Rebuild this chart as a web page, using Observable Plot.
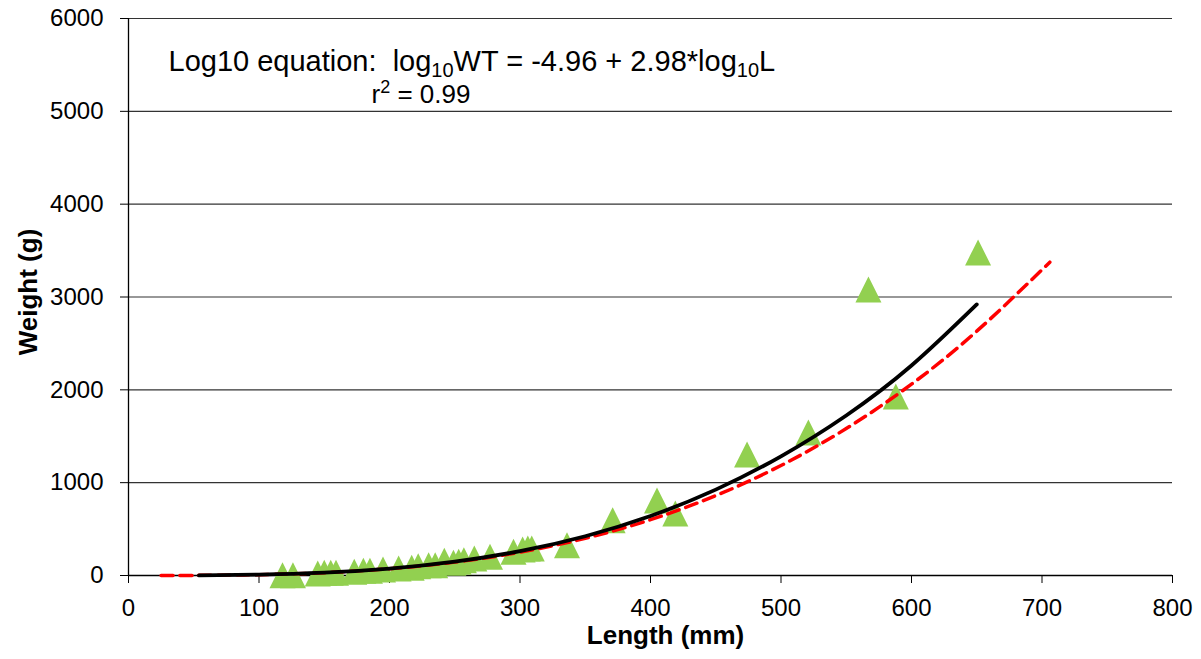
<!DOCTYPE html>
<html><head><meta charset="utf-8">
<script src="https://cdn.jsdelivr.net/npm/d3@7"></script>
<script src="https://cdn.jsdelivr.net/npm/@observablehq/plot@0.6"></script>
<style>
html,body{margin:0;padding:0;background:#fff;}
#chart svg{display:block;}
</style>
</head><body><div id="chart"></div>
<script>
// Observed fish (length mm, weight g)
const lengths = [118,126,145,150,155,159,173,180,185,195,207,217,222,230,235,242,249,253,257,265,277,295,302,306,309,336,371,405,419,474,521,567,588,651];
const weights = [3,3,22,29,29,29,40,51,51,65,76,83,100,111,111,158,137,147,165,183,201,255,280,291,291,326,596,808,668,1304,1541,3082,1929,3480];

// Black solid fitted curve
const fitL = [54,100,150,200,250,300,350,400,450,500,550,600,650];
const fitW = [1,9,30,74,149,262,423,641,925,1284,1724,2262,2920];

// Red dashed log10 curve
const logL = [25,50,100,150,200,250,300,350,400,450,500,550,600,650,706];
const logW = [0,1,9,30,73,144,251,401,601,860,1185,1583,2061,2632,3375];

const xTicks = [0,100,200,300,400,500,600,700,800];
const yTicks = [0,1000,2000,3000,4000,5000,6000];
const xTitle = "Length (mm)";
const yTitle = "Weight (g)";
// [text, kind] kind: 0 normal, 1 subscript, 2 superscript
const eqLine1 = [["Log10 equation:  log",0],["10",1],["WT = -4.96 + 2.98*log",0],["10",1],["L",0]];
const eqLine2 = [["r",0],["2",2],[" = 0.99",0]];

const points = lengths.map((L, i) => ({L, W: weights[i]}));
const fitLine = fitL.map((L, i) => ({L, W: fitW[i]}));
const logLine = logL.map((L, i) => ({L, W: logW[i]}));
const plain = parts => parts.map(p => p[0]).join("");

const triangle = {
  draw(ctx, size) {
    const r = Math.sqrt(size / Math.PI);
    ctx.moveTo(0, -r); ctx.lineTo(r, r); ctx.lineTo(-r, r); ctx.closePath();
  }
};
const FONT = "'Liberation Sans', Arial, sans-serif";

const svg = Plot.plot({
  width: 1201, height: 659,
  marginLeft: 128, marginRight: 29, marginTop: 18, marginBottom: 84,
  style: {fontFamily: FONT, fontSize: "24px", color: "#000", background: "#fff", overflow: "visible"},
  x: {domain: [0, 800], ticks: xTicks, tickSize: 8, tickPadding: 15, tickFormat: d => String(d), label: null},
  y: {domain: [0, 6000], ticks: yTicks, tickSize: 8, tickPadding: 17, tickFormat: d => String(d), label: null},
  marks: [
    Plot.ruleY(yTicks, {stroke: "#333", strokeWidth: 1.2}),
    Plot.ruleY([0], {stroke: "#000", strokeWidth: 1.3}),
    Plot.ruleX([0], {stroke: "#000", strokeWidth: 1.3}),
    Plot.dot(points, {x: "L", y: "W", symbol: triangle, r: 13, fill: "#92D050", stroke: "none"}),
    Plot.line(logLine, {x: "L", y: "W", stroke: "#FF0000", strokeWidth: 3.5, strokeDasharray: "12,7", curve: "natural"}),
    Plot.line(fitLine, {x: "L", y: "W", stroke: "#000", strokeWidth: 3.8, curve: "natural"}),
    Plot.text([plain(eqLine1)], {frameAnchor: "top-left", textAnchor: "start", lineAnchor: "top", dx: 40, dy: 31.5, fontSize: 29, fontFamily: FONT, fill: "#000"}),
    Plot.text([plain(eqLine2)], {frameAnchor: "top-left", textAnchor: "start", lineAnchor: "top", dx: 243, dy: 66, fontSize: 26, fontFamily: FONT, fill: "#000"}),
    Plot.text([xTitle], {frameAnchor: "bottom", textAnchor: "middle", lineAnchor: "middle", dx: 15, dy: 60, fontSize: 26, fontWeight: "bold", fontFamily: FONT, fill: "#000"}),
    Plot.text([yTitle], {frameAnchor: "left", textAnchor: "middle", lineAnchor: "middle", rotate: -90, dx: -100, dy: -5, fontSize: 26, fontWeight: "bold", fontFamily: FONT, fill: "#000"})
  ]
});

// rebuild equation texts with real sub/superscripts
function rich(parts, subSize, down, up) {
  const target = plain(parts);
  d3.select(svg).selectAll("text").filter(function() { return this.textContent === target; }).each(function() {
    const t = d3.select(this);
    t.text(null).style("white-space", "pre").attr("xml:space", "preserve");
    let shift = 0;
    parts.forEach(([s, k]) => {
      const want = k === 1 ? down : k === 2 ? -up : 0;
      const ts = t.append("tspan").text(s);
      if (want !== shift) { ts.attr("dy", want - shift); shift = want; }
      if (k) ts.attr("font-size", subSize);
    });
  });
}
rich(eqLine1, 20, 6, 10);
rich(eqLine2, 18, 6, 10);

document.getElementById("chart").appendChild(svg);
</script>
</body></html>
